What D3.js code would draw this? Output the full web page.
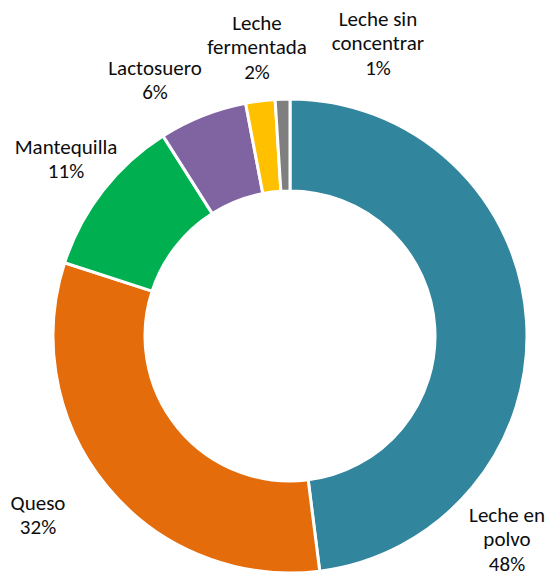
<!DOCTYPE html>
<html>
<head>
<meta charset="utf-8">
<script src="https://d3js.org/d3.v7.min.js"></script>
<style>
    html, body { margin: 0; padding: 0; background: #ffffff; }
    svg { display: block; }
    text { font-family: Carlito, Calibri, Lato, sans-serif; font-size: 21px; fill: #0d0d0d; }
</style>
</head>
<body>
<script>

var categories = ["Leche en polvo", "Queso", "Mantequilla", "Lactosuero", "Leche fermentada", "Leche sin concentrar"];
var values = [48, 32, 11, 6, 2, 1];
var labelLines = [["Leche en", "polvo"], ["Queso"], ["Mantequilla"], ["Lactosuero"], ["Leche", "fermentada"], ["Leche sin", "concentrar"]];
var colors = ["#31859C", "#E46C0A", "#00B050", "#8064A2", "#FFC000", "#7F7F7F"];

// where the label blocks sit (centre of block), picked to match the sheet
var labelAt = [[507, 539], [38, 515], [66, 159], [155, 80], [257, 47], [378, 43]];

var width = 550, height = 578;
var center = {x: 290, y: 336};
var outerR = 237, innerR = 145;
var lineH = 24.5;

var svg = d3.select("body").append("svg")
    .attr("width", width)
    .attr("height", height);

var total = d3.sum(values);

var pie = d3.pie()
    .sort(null)
    .value(function (d) { return d; });

var arc = d3.arc()
    .innerRadius(innerR)
    .outerRadius(outerR);

var chart = svg.append("g")
    .attr("transform", "translate(" + center.x + "," + center.y + ")");

chart.selectAll(".slice")
    .data(pie(values))
    .enter()
    .append("path")
    .attr("class", "slice")
    .attr("d", arc)
    .attr("fill", function (d, i) { return colors[i]; })
    .attr("stroke", "#ffffff")
    .attr("stroke-width", 3)
    .attr("stroke-linejoin", "miter");

var labels = svg.selectAll(".label")
    .data(categories)
    .enter()
    .append("text")
    .attr("class", "label")
    .attr("text-anchor", "middle");

labels.each(function (d, i) {
    var lines = labelLines[i].concat([d3.format(".0%")(values[i] / total)]);
    var top = labelAt[i][1] - (lines.length - 1) * lineH / 2;
    d3.select(this).selectAll("tspan")
        .data(lines)
        .enter()
        .append("tspan")
        .attr("x", labelAt[i][0])
        .attr("y", function (l, j) { return top + j * lineH; })
        .attr("dominant-baseline", "central")
        .text(function (l) { return l; });
});

</script>
</body>
</html>
